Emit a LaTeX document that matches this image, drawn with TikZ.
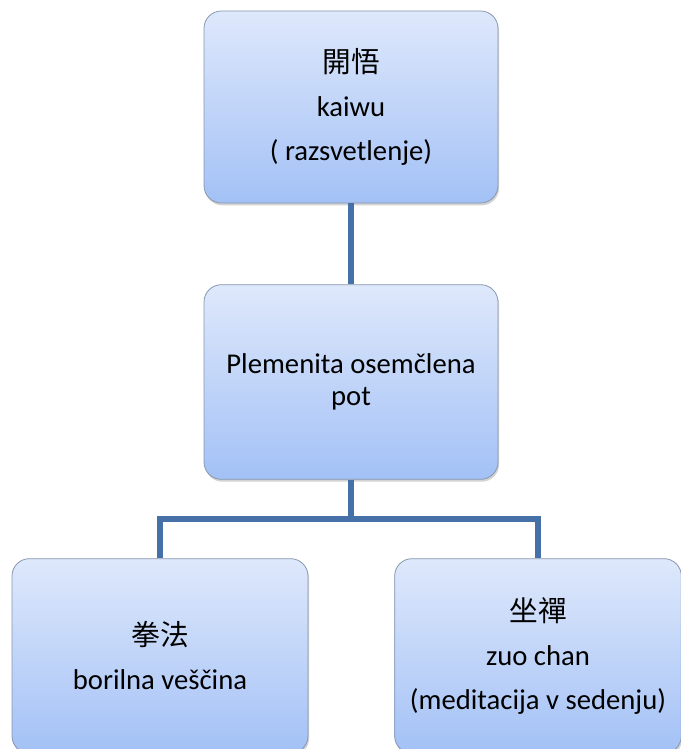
\documentclass[tikz,border=0pt]{standalone}
\usepackage{fontspec}
\setmainfont{Carlito}
\newfontfamily\cjk{Noto Sans CJK TC}
\definecolor{boxtop}{HTML}{DEE8FB}
\definecolor{boxbot}{HTML}{A3C1F6}
\definecolor{boxline}{HTML}{8797B0}
\definecolor{linkblue}{HTML}{4570A8}
\usetikzlibrary{positioning,shadows}

\begin{document}
\begin{tikzpicture}[x=0.75pt, y=-0.75pt,
  box/.style={rectangle, draw=boxline, line width=0.6pt, top color=boxtop,
    bottom color=boxbot, minimum width=220.5pt, minimum height=144pt,
    align=center, rounded corners=13pt, text=black,
    font=\fontsize{21.5}{24}\selectfont,
    drop shadow={opacity=0.35, shadow xshift=0.8pt, shadow yshift=-1.8pt}},
  link/.style={linkblue, line width=3.8pt}
]
  \useasboundingbox (0,0) rectangle (681,749);
  \clip (0,0) rectangle (681,749);
  \node[box] (top) at (351,107) {{\cjk 開悟}\\[9pt]kaiwu\\[9pt]( razsvetlenje)};
  \node[box, minimum height=146pt] (mid) at (351,382) {Plemenita osemčlena\\pot};
  \node[box, minimum width=222pt, minimum height=146pt] (left) at (160,656)
    {{\cjk 拳法}\\[9pt]borilna veščina};
  \node[box, minimum width=215pt, minimum height=146pt] (right) at (538,656)
    {{\cjk 坐禪}\\[9pt]zuo chan\\[9pt](meditacija v sedenju)};
  \coordinate (split) at (351,519);
  % connectors
  \draw[link] (top) -- (mid);
  \draw[link] (mid) -- (split);
  \draw[link] (left.north) -- (left.north |- split) -- (right.north |- split) -- (right.north);
\end{tikzpicture}
\end{document}
